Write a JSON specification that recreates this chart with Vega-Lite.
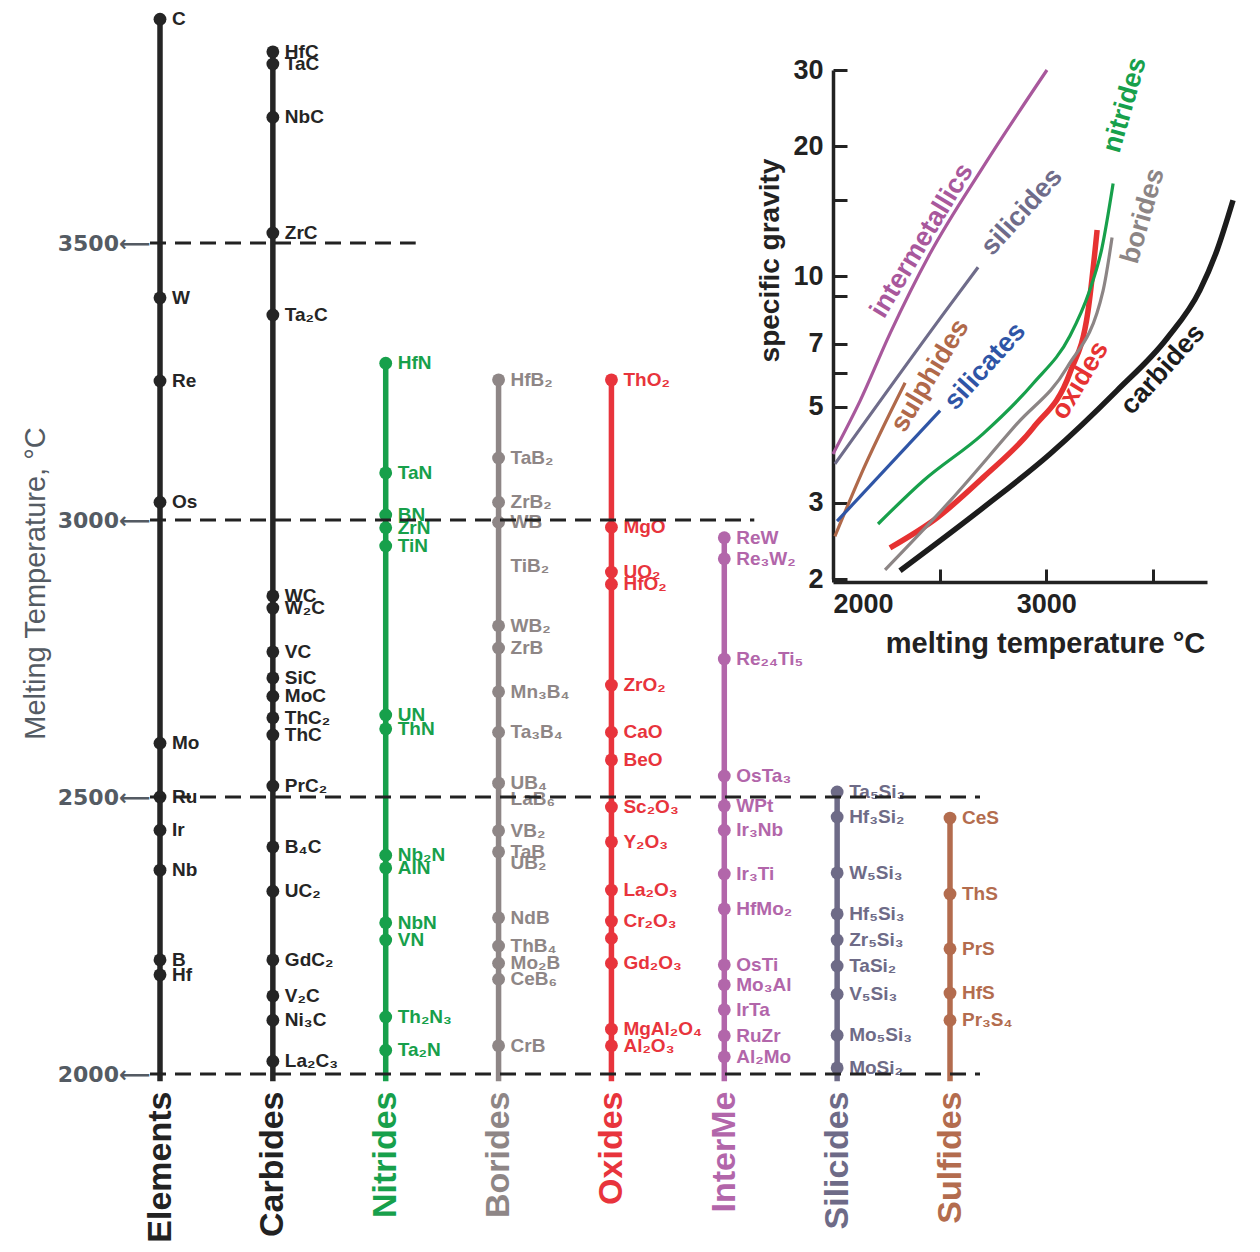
{
  "$schema": "https://vega.github.io/schema/vega-lite/v6.json",
  "width": 1260,
  "height": 1252,
  "autosize": {"type": "none"},
  "padding": 0,
  "background": "white",
  "config": {
    "view": {"stroke": null},
    "font": "Liberation Sans",
    "axis": {"grid": false, "labelOverlap": false}
  },
  "datasets": {
    "pts": [
      {"cat": "Elements", "name": "C", "t": 3904},
      {"cat": "Elements", "name": "W", "t": 3401},
      {"cat": "Elements", "name": "Re", "t": 3251},
      {"cat": "Elements", "name": "Os", "t": 3032},
      {"cat": "Elements", "name": "Mo", "t": 2597},
      {"cat": "Elements", "name": "Ru", "t": 2500},
      {"cat": "Elements", "name": "Ir", "t": 2440},
      {"cat": "Elements", "name": "Nb", "t": 2368},
      {"cat": "Elements", "name": "B", "t": 2206},
      {"cat": "Elements", "name": "Hf", "t": 2179},
      {"cat": "Carbides", "name": "HfC", "t": 3845},
      {"cat": "Carbides", "name": "TaC", "t": 3823},
      {"cat": "Carbides", "name": "NbC", "t": 3727},
      {"cat": "Carbides", "name": "ZrC", "t": 3518},
      {"cat": "Carbides", "name": "Ta₂C", "t": 3370},
      {"cat": "Carbides", "name": "WC", "t": 2863},
      {"cat": "Carbides", "name": "W₂C", "t": 2841},
      {"cat": "Carbides", "name": "VC", "t": 2762},
      {"cat": "Carbides", "name": "SiC", "t": 2715},
      {"cat": "Carbides", "name": "MoC", "t": 2682},
      {"cat": "Carbides", "name": "ThC₂", "t": 2643},
      {"cat": "Carbides", "name": "ThC", "t": 2612},
      {"cat": "Carbides", "name": "PrC₂", "t": 2520},
      {"cat": "Carbides", "name": "B₄C", "t": 2410},
      {"cat": "Carbides", "name": "UC₂", "t": 2330},
      {"cat": "Carbides", "name": "GdC₂", "t": 2206},
      {"cat": "Carbides", "name": "V₂C", "t": 2141},
      {"cat": "Carbides", "name": "Ni₃C", "t": 2097},
      {"cat": "Carbides", "name": "La₂C₃", "t": 2023},
      {"cat": "Nitrides", "name": "HfN", "t": 3283},
      {"cat": "Nitrides", "name": "TaN", "t": 3085},
      {"cat": "Nitrides", "name": "BN", "t": 3009},
      {"cat": "Nitrides", "name": "ZrN", "t": 2986},
      {"cat": "Nitrides", "name": "TiN", "t": 2953},
      {"cat": "Nitrides", "name": "UN", "t": 2648},
      {"cat": "Nitrides", "name": "ThN", "t": 2623},
      {"cat": "Nitrides", "name": "Nb₂N", "t": 2395},
      {"cat": "Nitrides", "name": "AlN", "t": 2372},
      {"cat": "Nitrides", "name": "NbN", "t": 2273},
      {"cat": "Nitrides", "name": "VN", "t": 2242},
      {"cat": "Nitrides", "name": "Th₂N₃", "t": 2103},
      {"cat": "Nitrides", "name": "Ta₂N", "t": 2043},
      {"cat": "Borides", "name": "HfB₂", "t": 3253},
      {"cat": "Borides", "name": "TaB₂", "t": 3112},
      {"cat": "Borides", "name": "ZrB₂", "t": 3032},
      {"cat": "Borides", "name": "WB", "t": 2996},
      {"cat": "Borides", "name": "TiB₂", "t": 2917},
      {"cat": "Borides", "name": "WB₂", "t": 2809},
      {"cat": "Borides", "name": "ZrB", "t": 2769},
      {"cat": "Borides", "name": "Mn₃B₄", "t": 2690},
      {"cat": "Borides", "name": "Ta₃B₄", "t": 2617},
      {"cat": "Borides", "name": "UB₄", "t": 2525},
      {"cat": "Borides", "name": "LaB₆", "t": 2497},
      {"cat": "Borides", "name": "VB₂", "t": 2439},
      {"cat": "Borides", "name": "TaB", "t": 2401},
      {"cat": "Borides", "name": "UB₂", "t": 2380},
      {"cat": "Borides", "name": "NdB", "t": 2282},
      {"cat": "Borides", "name": "ThB₄", "t": 2231},
      {"cat": "Borides", "name": "Mo₂B", "t": 2200},
      {"cat": "Borides", "name": "CeB₆", "t": 2171},
      {"cat": "Borides", "name": "CrB", "t": 2051},
      {"cat": "Oxides", "name": "ThO₂", "t": 3253},
      {"cat": "Oxides", "name": "MgO", "t": 2987},
      {"cat": "Oxides", "name": "UO₂", "t": 2906},
      {"cat": "Oxides", "name": "HfO₂", "t": 2884},
      {"cat": "Oxides", "name": "ZrO₂", "t": 2702},
      {"cat": "Oxides", "name": "CaO", "t": 2617},
      {"cat": "Oxides", "name": "BeO", "t": 2567},
      {"cat": "Oxides", "name": "Sc₂O₃", "t": 2482},
      {"cat": "Oxides", "name": "Y₂O₃", "t": 2419},
      {"cat": "Oxides", "name": "La₂O₃", "t": 2332},
      {"cat": "Oxides", "name": "Cr₂O₃", "t": 2276},
      {"cat": "Oxides", "name": "", "t": 2245},
      {"cat": "Oxides", "name": "Gd₂O₃", "t": 2200},
      {"cat": "Oxides", "name": "MgAl₂O₄", "t": 2081},
      {"cat": "Oxides", "name": "Al₂O₃", "t": 2051},
      {"cat": "InterMe", "name": "ReW", "t": 2968},
      {"cat": "InterMe", "name": "Re₃W₂", "t": 2930},
      {"cat": "InterMe", "name": "Re₂₄Ti₅", "t": 2749},
      {"cat": "InterMe", "name": "OsTa₃", "t": 2538},
      {"cat": "InterMe", "name": "WPt", "t": 2484},
      {"cat": "InterMe", "name": "Ir₃Nb", "t": 2440},
      {"cat": "InterMe", "name": "Ir₃Ti", "t": 2361},
      {"cat": "InterMe", "name": "HfMo₂", "t": 2298},
      {"cat": "InterMe", "name": "OsTi", "t": 2197},
      {"cat": "InterMe", "name": "Mo₃Al", "t": 2161},
      {"cat": "InterMe", "name": "IrTa", "t": 2116},
      {"cat": "InterMe", "name": "RuZr", "t": 2069},
      {"cat": "InterMe", "name": "Al₂Mo", "t": 2031},
      {"cat": "Silicides", "name": "Ta₅Si₃", "t": 2509},
      {"cat": "Silicides", "name": "Hf₃Si₂", "t": 2464},
      {"cat": "Silicides", "name": "W₅Si₃", "t": 2363},
      {"cat": "Silicides", "name": "Hf₅Si₃", "t": 2289},
      {"cat": "Silicides", "name": "Zr₅Si₃", "t": 2242},
      {"cat": "Silicides", "name": "TaSi₂", "t": 2195},
      {"cat": "Silicides", "name": "V₅Si₃", "t": 2144},
      {"cat": "Silicides", "name": "Mo₅Si₃", "t": 2070},
      {"cat": "Silicides", "name": "MoSi₂", "t": 2011},
      {"cat": "Sulfides", "name": "CeS", "t": 2462},
      {"cat": "Sulfides", "name": "ThS", "t": 2325},
      {"cat": "Sulfides", "name": "PrS", "t": 2226},
      {"cat": "Sulfides", "name": "HfS", "t": 2146},
      {"cat": "Sulfides", "name": "Pr₃S₄", "t": 2097}
    ],
    "dashes": [
      {"cat": "Elements", "end": "Nitrides", "t": 3500},
      {"cat": "Elements", "end": "InterMe", "t": 3000},
      {"cat": "Elements", "end": "Sulfides", "t": 2500},
      {"cat": "Elements", "end": "Sulfides", "t": 2000}
    ],
    "curves": [
      {"family": "intermetallics", "T": 2000, "sg": 3.89},
      {"family": "intermetallics", "T": 2127, "sg": 5.16},
      {"family": "intermetallics", "T": 2267, "sg": 7.38},
      {"family": "intermetallics", "T": 2455, "sg": 11.3},
      {"family": "intermetallics", "T": 2703, "sg": 17.9},
      {"family": "intermetallics", "T": 3003, "sg": 30},
      {"family": "silicides", "T": 2009, "sg": 3.69},
      {"family": "silicides", "T": 2549, "sg": 8.6},
      {"family": "silicides", "T": 2680, "sg": 10.5},
      {"family": "sulphides", "T": 2009, "sg": 2.51},
      {"family": "sulphides", "T": 2127, "sg": 3.45},
      {"family": "sulphides", "T": 2338, "sg": 5.68},
      {"family": "silicates", "T": 2019, "sg": 2.72},
      {"family": "silicates", "T": 2502, "sg": 4.9},
      {"family": "nitrides", "T": 2211, "sg": 2.68},
      {"family": "nitrides", "T": 2422, "sg": 3.37},
      {"family": "nitrides", "T": 2703, "sg": 4.33},
      {"family": "nitrides", "T": 2938, "sg": 5.66},
      {"family": "nitrides", "T": 3111, "sg": 7.3},
      {"family": "nitrides", "T": 3200, "sg": 9.2},
      {"family": "nitrides", "T": 3260, "sg": 11.6},
      {"family": "nitrides", "T": 3313, "sg": 16.4},
      {"family": "oxides", "T": 2267, "sg": 2.36},
      {"family": "oxides", "T": 2488, "sg": 2.77},
      {"family": "oxides", "T": 2703, "sg": 3.43},
      {"family": "oxides", "T": 2938, "sg": 4.47},
      {"family": "oxides", "T": 3111, "sg": 6.0},
      {"family": "oxides", "T": 3195, "sg": 8.3},
      {"family": "oxides", "T": 3238, "sg": 12.8},
      {"family": "borides", "T": 2244, "sg": 2.1},
      {"family": "borides", "T": 2549, "sg": 3.03},
      {"family": "borides", "T": 2863, "sg": 4.57},
      {"family": "borides", "T": 3097, "sg": 6.16},
      {"family": "borides", "T": 3266, "sg": 9.28},
      {"family": "borides", "T": 3308, "sg": 12.3},
      {"family": "carbides", "T": 2314, "sg": 2.09},
      {"family": "carbides", "T": 2703, "sg": 2.92},
      {"family": "carbides", "T": 3017, "sg": 3.89},
      {"family": "carbides", "T": 3331, "sg": 5.45},
      {"family": "carbides", "T": 3566, "sg": 7.2},
      {"family": "carbides", "T": 3720, "sg": 9.3},
      {"family": "carbides", "T": 3800, "sg": 11.5},
      {"family": "carbides", "T": 3875, "sg": 15.0}
    ],
    "curveLabels": [
      {"family": "intermetallics", "T": 2417, "sg": 12.1},
      {"family": "silicides", "T": 2886, "sg": 14.1},
      {"family": "sulphides", "T": 2455, "sg": 5.9},
      {"family": "silicates", "T": 2713, "sg": 6.2},
      {"family": "oxides", "T": 3158, "sg": 5.75},
      {"family": "carbides", "T": 3547, "sg": 6.1},
      {"family": "nitrides", "T": 3369, "sg": 24.9},
      {"family": "borides", "T": 3453, "sg": 13.8}
    ]
  },
  "layer": [
    {
      "encoding": {
        "x": {
          "field": "cat", "type": "nominal",
          "scale": {"type": "point", "domain": ["Elements", "Carbides", "Nitrides", "Borides", "Oxides", "InterMe", "Silicides", "Sulfides"], "range": [160, 950], "padding": 0},
          "axis": {
            "orient": "bottom", "offset": -170, "domain": false, "ticks": false, "title": null,
            "labelAngle": -90, "labelAlign": "right", "labelBaseline": "middle",
            "labelFontSize": 34, "labelFontWeight": "bold", "labelPadding": 9,
            "labelColor": {
              "condition": [
                {"test": "datum.value === 'Nitrides'", "value": "#17a04b"},
                {"test": "datum.value === 'Borides'", "value": "#8e8686"},
                {"test": "datum.value === 'Oxides'", "value": "#e8343c"},
                {"test": "datum.value === 'InterMe'", "value": "#b266aa"},
                {"test": "datum.value === 'Silicides'", "value": "#6e6b87"},
                {"test": "datum.value === 'Sulfides'", "value": "#b36c4e"}
              ],
              "value": "#222222"
            }
          }
        },
        "y": {
          "field": "t", "type": "quantitative",
          "scale": {"domain": [2000, 3500], "range": [1074, 243], "nice": false, "zero": false},
          "axis": {
            "orient": "left", "offset": -150, "domain": false, "ticks": false,
            "values": [2000, 2500, 3000, 3500],
            "labelExpr": "datum.value + '⟵'",
            "labelFont": "DejaVu Sans", "labelFontSize": 22, "labelFontWeight": "bold", "labelColor": "#545b63", "labelPadding": 0,
            "title": "Melting Temperature,  °C",
            "titleFont": "Liberation Sans Narrow, Liberation Sans", "titleFontSize": 29, "titleFontWeight": "normal",
            "titleColor": "#545b63", "titleX": -115, "titleY": 583, "titleAlign": "center", "titleBaseline": "middle", "titleAngle": -90
          }
        }
      },
      "layer": [
        {
          "data": {"name": "pts"},
          "mark": {"type": "rule", "strokeWidth": 5.5},
          "encoding": {
            "y": {"aggregate": "max", "field": "t", "type": "quantitative"},
            "y2": {"datum": 1987},
            "color": {
              "field": "cat", "type": "nominal", "legend": null,
              "scale": {"domain": ["Elements", "Carbides", "Nitrides", "Borides", "Oxides", "InterMe", "Silicides", "Sulfides"],
                        "range": ["#252525", "#252525", "#17a04b", "#8e8686", "#e8343c", "#b266aa", "#6e6b87", "#b36c4e"]}
            }
          }
        },
        {
          "data": {"name": "pts"},
          "transform": [{"filter": "datum.name !== 'TiB₂' && datum.name !== 'LaB₆' && datum.name !== 'UB₂'"}],
          "mark": {"type": "point", "filled": true, "opacity": 1, "size": 165, "shape": "circle"},
          "encoding": {
            "color": {"field": "cat", "type": "nominal", "legend": null}
          }
        },
        {
          "data": {"name": "pts"},
          "transform": [{"filter": "datum.name !== ''"}],
          "mark": {"type": "text", "align": "left", "baseline": "middle", "dx": 12, "fontWeight": "bold"},
          "encoding": {
            "text": {"field": "name"},
            "color": {"field": "cat", "type": "nominal", "legend": null},
            "size": {
              "field": "cat", "type": "ordinal", "legend": null,
              "scale": {"domain": ["Elements", "Carbides", "Nitrides", "Borides", "Oxides", "InterMe", "Silicides", "Sulfides"],
                        "range": [19, 19, 20, 19, 20, 17, 18, 19]}
            }
          }
        },
        {
          "data": {"name": "dashes"},
          "mark": {"type": "rule", "strokeDash": [16, 9], "strokeWidth": 3, "color": "#222222", "xOffset": -10, "x2Offset": 30},
          "encoding": {
            "x2": {"field": "end"}
          }
        }
      ]
    },
    {
      "encoding": {
        "x": {
          "field": "T", "type": "quantitative",
          "scale": {"domain": [2000, 3753], "range": [833, 1207], "nice": false, "zero": false},
          "axis": {
            "orient": "bottom", "offset": -670,
            "values": [2000, 2500, 3000, 3500],
            "labelExpr": "(datum.value == 2000 || datum.value == 3000) ? format(datum.value, 'd') : ''",
            "domainColor": "#222222", "domainWidth": 3.5, "tickColor": "#222222", "tickWidth": 3, "tickSize": -13,
            "labelFontSize": 27, "labelFontWeight": "bold", "labelColor": "#222222", "labelPadding": 22, "labelFlush": true,
            "title": "melting temperature °C", "titleFontSize": 29, "titleFontWeight": "bold", "titleColor": "#222222",
            "titleX": 1045, "titleY": 47, "titleBaseline": "top", "titleAlign": "center"
          }
        },
        "y": {
          "field": "sg", "type": "quantitative",
          "scale": {"type": "log", "domain": [2, 30], "range": [579, 70], "nice": false},
          "axis": {
            "orient": "left", "offset": -833,
            "values": [2, 3, 5, 6, 7, 9, 10, 15, 20, 30],
            "labelExpr": "indexof([2, 3, 5, 7, 10, 20, 30], datum.value) >= 0 ? format(datum.value, 'd') : ''",
            "domainColor": "#222222", "domainWidth": 3.5, "tickColor": "#222222", "tickWidth": 3, "tickSize": -14,
            "labelFontSize": 27, "labelFontWeight": "bold", "labelColor": "#222222", "labelPadding": 24,
            "title": "specific gravity", "titleFontSize": 28, "titleFontWeight": "bold", "titleColor": "#222222",
            "titleX": -63, "titleY": 260, "titleAlign": "center", "titleBaseline": "middle", "titleAngle": -90
          }
        }
      },
      "layer": [
        {
          "data": {"name": "curves"},
          "transform": [{"filter": "datum.family === 'oxides' || datum.family === 'carbides'"}],
          "mark": {"type": "line", "strokeWidth": 5.5, "interpolate": "monotone"},
          "encoding": {
            "color": {
              "field": "family", "type": "nominal", "legend": null,
              "scale": {"domain": ["intermetallics", "silicides", "sulphides", "silicates", "nitrides", "oxides", "borides", "carbides"],
                        "range": ["#a8589c", "#6f6c8a", "#b0694a", "#2f55a6", "#17a04b", "#e63232", "#8c8585", "#1c1c1c"]}
            }
          }
        },
        {
          "data": {"name": "curves"},
          "transform": [{"filter": "datum.family !== 'oxides' && datum.family !== 'carbides'"}],
          "mark": {"type": "line", "strokeWidth": 3.2, "interpolate": "monotone"},
          "encoding": {
            "color": {"field": "family", "type": "nominal", "legend": null}
          }
        },
        {
          "data": {"name": "curveLabels"},
          "transform": [{"filter": "datum.family === 'silicides' || datum.family === 'carbides' || datum.family === 'silicates'"}],
          "mark": {"type": "text", "angle": -48, "fontSize": 27, "fontWeight": "bold", "align": "center", "baseline": "middle"},
          "encoding": {
            "text": {"field": "family"},
            "color": {"field": "family", "type": "nominal", "legend": null}
          }
        },
        {
          "data": {"name": "curveLabels"},
          "transform": [{"filter": "datum.family === 'intermetallics' || datum.family === 'sulphides' || datum.family === 'oxides'"}],
          "mark": {"type": "text", "angle": -59, "fontSize": 27, "fontWeight": "bold", "align": "center", "baseline": "middle"},
          "encoding": {
            "text": {"field": "family"},
            "color": {"field": "family", "type": "nominal", "legend": null}
          }
        },
        {
          "data": {"name": "curveLabels"},
          "transform": [{"filter": "datum.family === 'nitrides' || datum.family === 'borides'"}],
          "mark": {"type": "text", "angle": -74, "fontSize": 27, "fontWeight": "bold", "align": "center", "baseline": "middle"},
          "encoding": {
            "text": {"field": "family"},
            "color": {"field": "family", "type": "nominal", "legend": null}
          }
        }
      ]
    }
  ],
  "resolve": {
    "scale": {"x": "independent", "y": "independent", "color": "independent", "size": "independent"},
    "axis": {"x": "independent", "y": "independent"}
  }
}
